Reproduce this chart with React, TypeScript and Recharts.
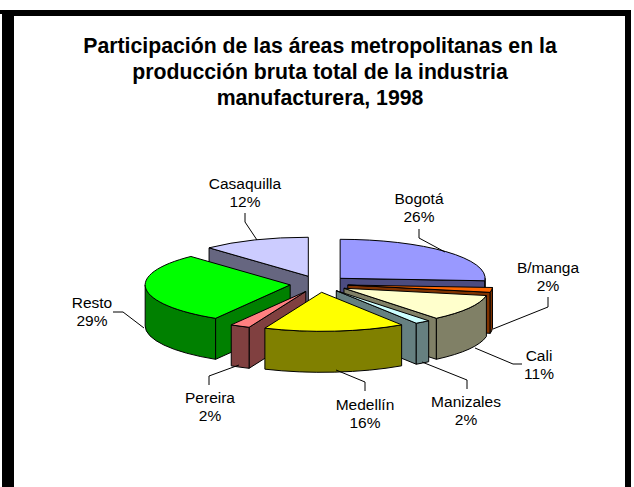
import { PieChart, Pie } from 'recharts';

const areas = ['Bogotá', 'B/manga', 'Cali', 'Manizales', 'Medellín', 'Pereira', 'Resto', 'Casaquilla'];
const shares = [26, 2, 11, 1.7, 15.7, 2.2, 29.4, 12];
const titleLines = [
  'Participación de las áreas metropolitanas en la',
  'producción bruta total de la industria',
  'manufacturera, 1998',
];

const topColors = ['#9999ff', '#ff6600', '#ffffcc', '#ccffff', '#ffff00', '#ff8080', '#00ff00', '#ccccff'];
const wallColors = ['#4c4c80', '#803300', '#808066', '#668080', '#808000', '#804040', '#008000', '#666680'];

// back to front, the slices overlap each other on screen
const drawOrder = ['Casaquilla', 'Bogotá', 'B/manga', 'Cali', 'Manizales', 'Resto', 'Pereira', 'Medellín'];

const FONT = '"Liberation Sans", Arial, sans-serif';
const TILT = 0.269;
const EXPLODE = 29;
const EXPLODE_TILT = 0.287;
const DEPTH = 41;

// label centre x, first baseline y, then the leader line points
const labelLayout: Record<string, { x: number; y: number; line: number[][] }> = {
  Bogotá: { x: 419, y: 204, line: [[419, 229], [419, 238], [445, 252]] },
  'B/manga': { x: 548, y: 273, line: [[548, 297], [548, 307], [493, 329]] },
  Cali: { x: 539, y: 361, line: [[522, 364], [513, 364], [475, 348]] },
  Manizales: { x: 466, y: 407, line: [[467, 389], [467, 380], [422, 362]] },
  Medellín: { x: 365, y: 410, line: [[365, 391], [365, 382], [336, 370]] },
  Pereira: { x: 210, y: 403, line: [[209, 385], [209, 376], [239, 365]] },
  Resto: { x: 92, y: 308, line: [[113, 312], [123, 312], [144, 328]] },
  Casaquilla: { x: 245, y: 189, line: [[245, 213], [245, 222], [257, 240]] },
};

const tableData = areas.map((name, i) => ({ name, value: shares[i] }));

const rad = (deg: number) => (deg * Math.PI) / 180;

function Slice3D(props: any) {
  const { cx, cy, outerRadius: r, startAngle: a1, endAngle: a2, name } = props;
  const i = areas.indexOf(name);
  const mid = rad((a1 + a2) / 2);
  const vx = cx + EXPLODE * Math.cos(mid);
  const vy = cy - EXPLODE * EXPLODE_TILT * Math.sin(mid);
  const rim = (a: number) => [vx + r * Math.cos(rad(a)), vy - r * TILT * Math.sin(rad(a))];
  const ry = r * TILT;
  const [sx, sy] = rim(a1);
  const [ex, ey] = rim(a2);

  const radialWall = ([x, y]: number[]) =>
    `M${vx},${vy} L${x},${y} L${x},${y + DEPTH} L${vx},${vy + DEPTH} Z`;

  // only the front half of the rim has a visible outer wall
  const from = Math.min(a1, 0);
  const to = Math.max(a2, -180);
  let outerWall = null;
  if (from > to) {
    const [fx, fy] = rim(from);
    const [tx, ty] = rim(to);
    outerWall = `M${fx},${fy} A${r},${ry} 0 0 1 ${tx},${ty} L${tx},${ty + DEPTH} A${r},${ry} 0 0 0 ${fx},${fy + DEPTH} Z`;
  }

  const wallStyle = { fill: wallColors[i], stroke: '#000', strokeWidth: 1, strokeLinejoin: 'round' as const };
  return (
    <g>
      {Math.cos(rad(a1)) < 0 && <path d={radialWall([sx, sy])} {...wallStyle} />}
      {Math.cos(rad(a2)) > 0 && <path d={radialWall([ex, ey])} {...wallStyle} />}
      {outerWall && <path d={outerWall} {...wallStyle} />}
      <path
        d={`M${vx},${vy} L${sx},${sy} A${r},${ry} 0 0 1 ${ex},${ey} Z`}
        fill={topColors[i]}
        stroke="#000"
        strokeWidth={1}
        strokeLinejoin="round"
      />
    </g>
  );
}

function SliceLabel(props: any) {
  const layout = labelLayout[props.name];
  return (
    <text textAnchor="middle" fontFamily={FONT} fontSize={15.5} fill="#000">
      <tspan x={layout.x} y={layout.y}>{props.name}</tspan>
      <tspan x={layout.x} y={layout.y + 18}>{Math.round(props.value)}%</tspan>
    </text>
  );
}

function SliceLeader(props: any) {
  const layout = labelLayout[props.name];
  return (
    <polyline
      points={layout.line.map((p) => p.join(',')).join(' ')}
      fill="none"
      stroke="#000"
      strokeWidth={1}
    />
  );
}

export default function App() {
  return (
    <div style={{ position: 'absolute', left: 0, top: 0, width: 634, height: 487, background: '#fff' }}>
      <div style={{ position: 'absolute', left: 0, top: 10, width: 14, height: 4, background: '#000' }} />
      <div style={{ position: 'absolute', left: 2, top: 10, width: 629, height: 6, background: '#000' }} />
      <div style={{ position: 'absolute', left: 2, top: 10, width: 12, height: 477, background: '#000' }} />
      <div style={{ position: 'absolute', left: 625, top: 10, width: 6, height: 477, background: '#000' }} />
      <PieChart width={634} height={487} margin={{ top: 0, right: 0, bottom: 0, left: 0 }} style={{ position: 'absolute', left: 0, top: 0 }}>
        {titleLines.map((line, i) => (
          <text key={line} x={320} y={53 + i * 26} textAnchor="middle" fontFamily={FONT} fontSize={21.25} fontWeight="bold" fill="#000">
            {line}
          </text>
        ))}
        {drawOrder.map((area) => (
          <Pie
            key={area}
            data={tableData}
            dataKey="value"
            nameKey="name"
            cx={319}
            cy={284}
            innerRadius={0}
            outerRadius={145}
            startAngle={90}
            endAngle={-270}
            stroke="none"
            isAnimationActive={false}
            shape={(props: any) => (props.name === area ? <Slice3D {...props} /> : <g />)}
            label={false}
            labelLine={false}
          />
        ))}
        <Pie
          data={tableData}
          dataKey="value"
          nameKey="name"
          cx={319}
          cy={284}
          outerRadius={145}
          startAngle={90}
          endAngle={-270}
          fill="none"
          stroke="none"
          isAnimationActive={false}
          shape={() => <g />}
          label={(props: any) => <SliceLabel {...props} />}
          labelLine={(props: any) => <SliceLeader {...props} />}
        />
      </PieChart>
    </div>
  );
}
